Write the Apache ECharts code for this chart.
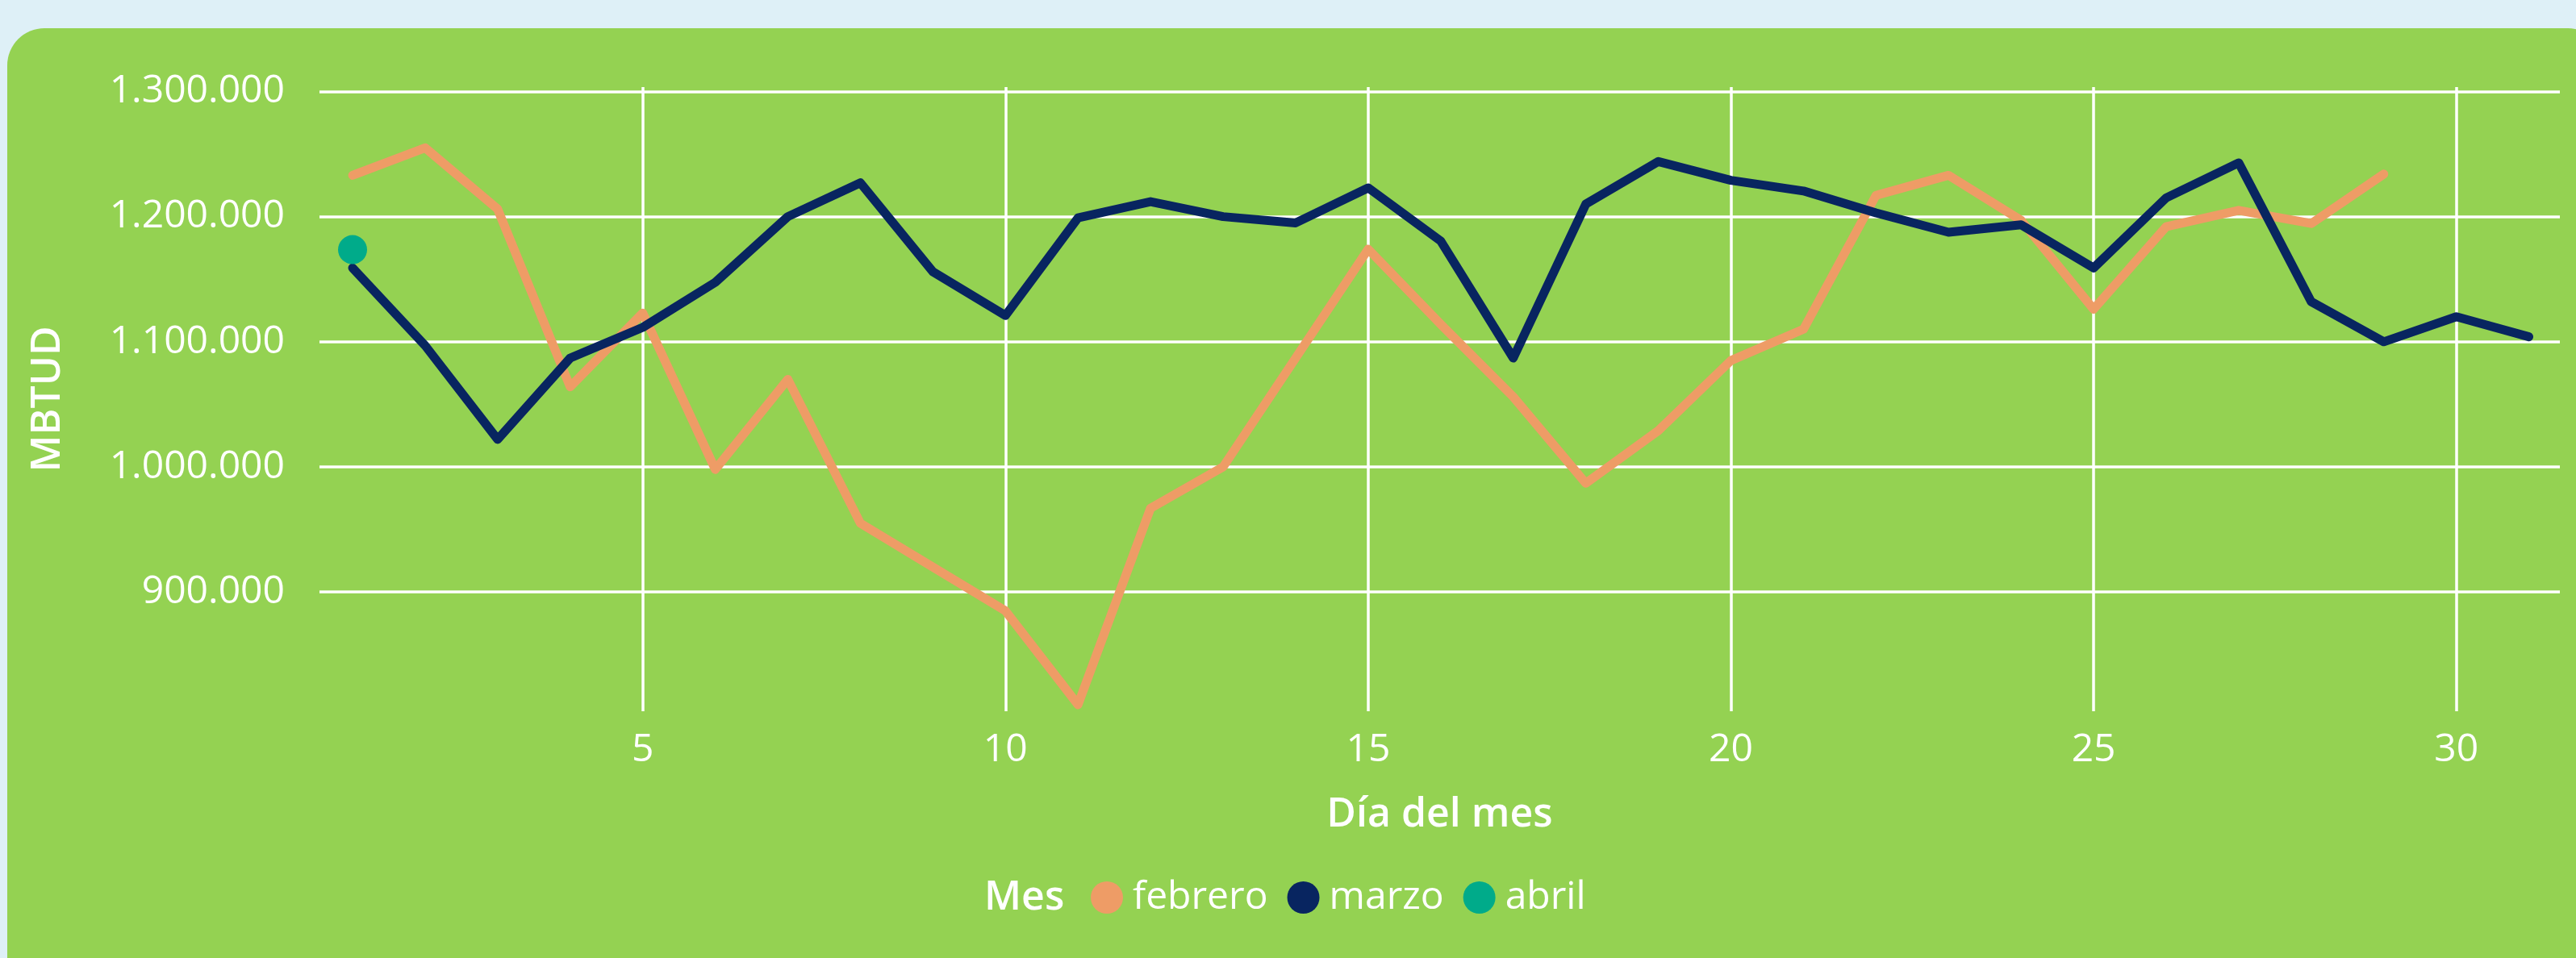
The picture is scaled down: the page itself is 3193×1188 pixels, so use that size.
<!DOCTYPE html>
<html>
<head>
<meta charset="utf-8">
<script src="https://cdn.jsdelivr.net/npm/echarts@6/dist/echarts.min.js"></script>
<style>
  html, body { margin: 0; padding: 0; width: 3193px; height: 1188px; overflow: hidden; background: #DEF0F7; }
  #card { position: absolute; left: 9px; top: 35px; width: 3220px; height: 1300px; border-radius: 46px; background: #94D252; }
  #chart { position: absolute; left: 0; top: 0; width: 3193px; height: 1188px; }
</style>
</head>
<body>
<div id="card"></div>
<div id="chart"></div>
<script>
// ---- data ----
const diasFebrero = [1,2,3,4,5,6,7,8,9,10,11,12,13,14,15,16,17,18,19,20,21,22,23,24,25,26,27,28,29];
const febrero = [1233000,1255000,1206000,1064000,1123000,998000,1070000,955000,920000,885000,
                 810000,967000,1000000,1087000,1174000,1114000,1056000,987000,1029000,1085000,
                 1110000,1217000,1233000,1197000,1126000,1192000,1205000,1194500,1234000];
const diasMarzo = [1,2,3,4,5,6,7,8,9,10,11,12,13,14,15,16,17,18,19,20,21,22,23,24,25,26,27,28,29,30,31];
const marzo = [1159000,1097000,1022000,1087000,1111500,1147500,1200000,1227000,1156000,1121000,
               1199000,1212000,1200000,1195000,1223000,1180500,1087000,1210000,1244000,1229000,
               1220500,1203000,1187500,1193500,1159000,1215000,1243000,1132000,1100000,1120000,1104000];
const diasAbril = [1];
const abril = [1173600];
const xTicks = [5,10,15,20,25,30];
const yTicks = [900000,1000000,1100000,1200000,1300000];
const seriesNames = ['febrero','marzo','abril'];

const FONT = "'Open Sans', 'Segoe UI', sans-serif";
const pair = (xs, ys) => xs.map((x, i) => [x, ys[i]]);
const fmt = v => String(v).replace(/\B(?=(\d{3})+(?!\d))/g, '.');

const chart = echarts.init(document.getElementById('chart'), null, { renderer: 'canvas' });
chart.setOption({
  animation: false,
  backgroundColor: 'transparent',
  grid: { left: 396, right: 20, top: 108, bottom: 306, containLabel: false },
  xAxis: {
    type: 'value',
    min: 0.544, max: 31.427,
    name: 'Día del mes',
    nameLocation: 'middle',
    nameGap: 104,
    nameTextStyle: { color: '#fff', fontSize: 50, fontWeight: 600, fontFamily: FONT },
    axisLine: { show: false },
    axisTick: { show: false, customValues: xTicks },
    axisLabel: { customValues: xTicks, color: '#fff', fontSize: 48, fontWeight: 400, fontFamily: FONT, margin: 24 },
    splitLine: { show: true, lineStyle: { color: '#ffffff', width: 3.5 } }
  },
  yAxis: {
    type: 'value',
    min: 804800, max: 1303500,
    name: 'MBTUD',
    nameLocation: 'middle',
    nameGap: 311,
    nameTextStyle: { color: '#fff', fontSize: 50, fontWeight: 600, fontFamily: FONT },
    axisLine: { show: false },
    axisTick: { show: false, customValues: yTicks },
    axisLabel: { customValues: yTicks, formatter: fmt, color: '#fff', fontSize: 48, fontWeight: 400, fontFamily: FONT, margin: 43 },
    splitLine: { show: true, lineStyle: { color: '#ffffff', width: 3.5 } }
  },
  legend: {
    data: seriesNames,
    left: 1352, top: 1089,
    icon: 'circle',
    itemWidth: 40, itemHeight: 40, itemGap: 24,
    padding: 0,
    textStyle: { color: '#fff', fontSize: 48, fontWeight: 400, fontFamily: FONT, padding: [0, 0, 0, 7] }
  },
  graphic: [{
    type: 'text', left: 1220, top: 1089,
    style: { text: 'Mes', fill: '#fff', fontSize: 50, fontWeight: 600, fontFamily: FONT }
  }],
  series: [
    {
      name: 'febrero', type: 'line', data: pair(diasFebrero, febrero),
      showSymbol: false, symbol: 'circle',
      itemStyle: { color: '#EE9C66' },
      lineStyle: { color: '#EE9C66', width: 11, cap: 'round', join: 'round' },
      z: 2
    },
    {
      name: 'marzo', type: 'line', data: pair(diasMarzo, marzo),
      showSymbol: false, symbol: 'circle',
      itemStyle: { color: '#082560' },
      lineStyle: { color: '#082560', width: 11, cap: 'round', join: 'round' },
      z: 3
    },
    {
      name: 'abril', type: 'line', data: pair(diasAbril, abril),
      showSymbol: true, symbol: 'circle', symbolSize: 36,
      itemStyle: { color: '#00AB8A' },
      lineStyle: { color: '#00AB8A', width: 11 },
      z: 4
    }
  ]
});
</script>
</body>
</html>
